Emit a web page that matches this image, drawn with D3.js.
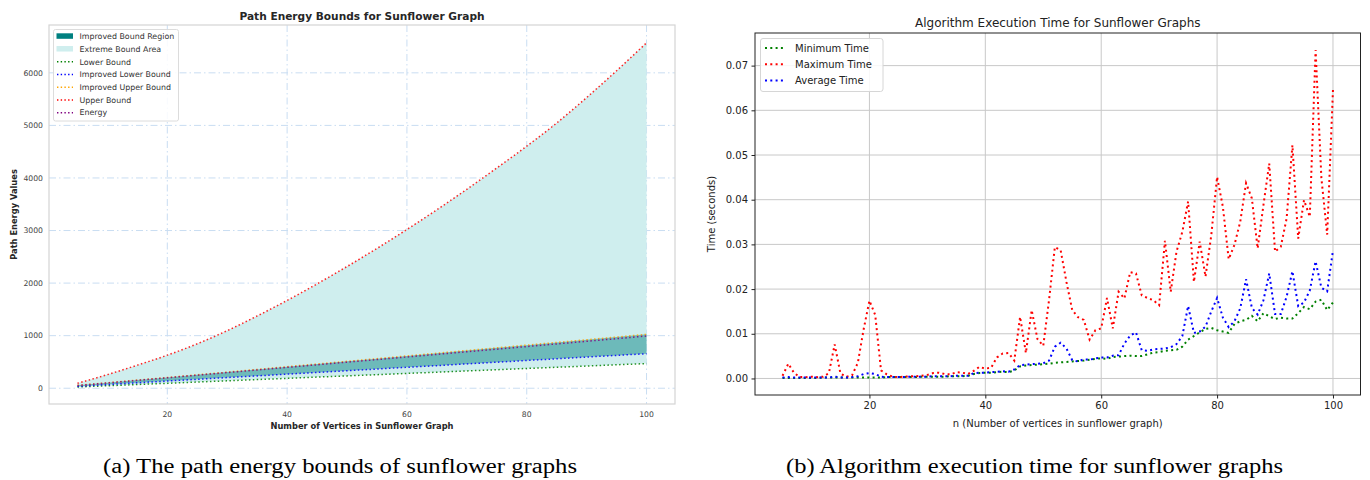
<!DOCTYPE html>
<html>
<head>
<meta charset="utf-8">
<title>Sunflower graphs</title>
<script src="https://d3js.org/d3.v7.min.js"></script>
<style>
  body { margin: 0; background: #fff; }
  svg { display: block; font-family: "DejaVu Sans", sans-serif; }
</style>
</head>
<body>
<div id="chart"></div>
<script>
// ---- left panel: path energy bounds ----
const nLeft = [5, 10, 15, 20, 25, 30, 35, 40, 45, 50, 55, 60, 65, 70, 75, 80, 85, 90, 95, 100];
const lowerBound = [24, 47, 71, 94, 118, 141, 165, 188, 212, 235, 258, 282, 305, 329, 352, 376, 399, 422, 446, 469];
const improvedLower = [35, 70, 103, 137, 170, 203, 235, 268, 300, 333, 365, 398, 430, 463, 495, 528, 560, 593, 625, 656];
const improvedUpper = [55, 104, 155, 205, 256, 307, 358, 410, 461, 512, 563, 614, 666, 717, 768, 820, 871, 922, 973, 1025];
const energyValues = [52, 100, 150, 199, 248, 298, 347, 397, 446, 496, 545, 595, 644, 694, 743, 793, 843, 893, 943, 994];
const upperBound = [94, 259, 439, 629, 845, 1095, 1375, 1670, 1985, 2315, 2660, 3020, 3395, 3785, 4190, 4605, 5045, 5530, 6040, 6571];
const leftXTicks = [20, 40, 60, 80, 100];
const leftYTicks = [0, 1000, 2000, 3000, 4000, 5000, 6000];

// ---- right panel: execution time ----
const nRight = d3.range(5, 101);
const minTime = [0.0001, 0.0001, 0.0001, 0.0001, 0.0001, 0.0001, 0.0001, 0.0002, 0.0002, 0.0002,
  0.0002, 0.0002, 0.0002, 0.0002, 0.0002, 0.0002, 0.0002, 0.0002, 0.0003, 0.0003,
  0.0003, 0.0003, 0.0003, 0.0003, 0.0004, 0.0004, 0.0004, 0.0004, 0.0004, 0.0005,
  0.0005, 0.0005, 0.0006, 0.0010, 0.0012, 0.0013, 0.0013, 0.0014, 0.0015, 0.0014,
  0.0018, 0.0027, 0.0029, 0.0030, 0.0031, 0.0032, 0.0033, 0.0035, 0.0036, 0.0037,
  0.0038, 0.0039, 0.0040, 0.0042, 0.0044, 0.0045, 0.0044, 0.0048, 0.0049, 0.0050,
  0.0051, 0.0050, 0.0050, 0.0054, 0.0058, 0.0059, 0.0062, 0.0063, 0.0064, 0.0071,
  0.0087, 0.0095, 0.0103, 0.0111, 0.0113, 0.0108, 0.0105, 0.0102, 0.0122, 0.0128,
  0.0131, 0.0140, 0.0128, 0.0146, 0.0139, 0.0133, 0.0136, 0.0134, 0.0134, 0.0146,
  0.0160, 0.0155, 0.0172, 0.0176, 0.0153, 0.0170];
const maxTime = [0.0006, 0.0033, 0.0012, 0.0003, 0.0003, 0.0004, 0.0003, 0.0004, 0.0012, 0.0076,
  0.0011, 0.0004, 0.0007, 0.0035, 0.0110, 0.0174, 0.0142, 0.0018, 0.0009, 0.0004,
  0.0003, 0.0004, 0.0005, 0.0005, 0.0006, 0.0008, 0.0012, 0.0013, 0.0010, 0.0009,
  0.0014, 0.0013, 0.0010, 0.0017, 0.0026, 0.0022, 0.0024, 0.0047, 0.0056, 0.0057,
  0.0040, 0.0138, 0.0057, 0.0153, 0.0088, 0.0073, 0.0176, 0.0294, 0.0287, 0.0216,
  0.0153, 0.0137, 0.0131, 0.0087, 0.0108, 0.0112, 0.0180, 0.0112, 0.0194, 0.0179,
  0.0238, 0.0235, 0.0186, 0.0180, 0.0175, 0.0164, 0.0308, 0.0194, 0.0284, 0.0328,
  0.0396, 0.0216, 0.0306, 0.0228, 0.0321, 0.0451, 0.0384, 0.0267, 0.0299, 0.0351,
  0.0437, 0.0403, 0.0291, 0.0388, 0.0481, 0.0284, 0.0295, 0.0358, 0.0522, 0.0313,
  0.0399, 0.0362, 0.0735, 0.0448, 0.0322, 0.0646];
const avgTime = [0.0002, 0.0003, 0.0002, 0.0002, 0.0002, 0.0002, 0.0002, 0.0002, 0.0002, 0.0004,
  0.0002, 0.0002, 0.0003, 0.0005, 0.0010, 0.0012, 0.0010, 0.0004, 0.0003, 0.0003,
  0.0003, 0.0003, 0.0004, 0.0004, 0.0004, 0.0004, 0.0005, 0.0005, 0.0005, 0.0005,
  0.0006, 0.0006, 0.0006, 0.0012, 0.0013, 0.0013, 0.0014, 0.0015, 0.0016, 0.0015,
  0.0020, 0.0030, 0.0031, 0.0032, 0.0033, 0.0034, 0.0040, 0.0071, 0.0080, 0.0067,
  0.0041, 0.0038, 0.0043, 0.0042, 0.0045, 0.0047, 0.0047, 0.0051, 0.0052, 0.0078,
  0.0096, 0.0103, 0.0063, 0.0062, 0.0065, 0.0066, 0.0067, 0.0070, 0.0077, 0.0095,
  0.0162, 0.0102, 0.0105, 0.0116, 0.0150, 0.0180, 0.0136, 0.0115, 0.0128, 0.0157,
  0.0222, 0.0158, 0.0143, 0.0175, 0.0235, 0.0144, 0.0144, 0.0183, 0.0240, 0.0162,
  0.0170, 0.0197, 0.0262, 0.0203, 0.0195, 0.0287];
const rightXTicks = [20, 40, 60, 80, 100];
const rightYTicks = [0, 0.01, 0.02, 0.03, 0.04, 0.05, 0.06, 0.07];

const W = 1370, H = 480;
const svg = d3.select("#chart").append("svg").attr("width", W).attr("height", H);

// ================= left chart =================
const L = { left: 49, right: 675, top: 25, bottom: 404 };
const lx = d3.scaleLinear().domain([0.25, 104.75]).range([L.left, L.right]);
const ly = d3.scaleLinear().domain([-300, 6910]).range([L.bottom, L.top]);
const left = svg.append("g");
const gridBlue = "#c9ddf2";

// grid
left.append("g").selectAll("line").data(leftXTicks).join("line")
  .attr("x1", d => lx(d)).attr("x2", d => lx(d))
  .attr("y1", L.top).attr("y2", L.bottom)
  .attr("stroke", gridBlue).attr("stroke-width", 1).attr("stroke-dasharray", "7,3,1.5,3");
left.append("g").selectAll("line").data(leftYTicks).join("line")
  .attr("x1", L.left).attr("x2", L.right)
  .attr("y1", d => ly(d)).attr("y2", d => ly(d))
  .attr("stroke", gridBlue).attr("stroke-width", 1).attr("stroke-dasharray", "7,3,1.5,3");

const leftRows = nLeft.map((n, i) => ({
  n, lo: lowerBound[i], ilo: improvedLower[i], iup: improvedUpper[i], up: upperBound[i], e: energyValues[i]
}));

left.append("path").datum(leftRows)
  .attr("fill", "#cfeeee")
  .attr("d", d3.area().curve(d3.curveMonotoneX).x(d => lx(d.n)).y0(d => ly(d.lo)).y1(d => ly(d.up)));
left.append("path").datum(leftRows)
  .attr("fill", "#008080").attr("fill-opacity", 0.47)
  .attr("d", d3.area().x(d => lx(d.n)).y0(d => ly(d.ilo)).y1(d => ly(d.iup)));

const leftLines = [
  { key: "lo", color: "#008000", label: "Lower Bound" },
  { key: "ilo", color: "#0000ff", label: "Improved Lower Bound" },
  { key: "iup", color: "#ffa500", label: "Improved Upper Bound" },
  { key: "up", color: "#ff0000", label: "Upper Bound" },
  { key: "e", color: "#800080", label: "Energy" }
];
leftLines.forEach(s => {
  left.append("path").datum(leftRows)
    .attr("fill", "none").attr("stroke", s.color).attr("stroke-width", 1.5)
    .attr("stroke-dasharray", "1.5,2.4").attr("stroke-opacity", 0.85)
    .attr("d", d3.line().curve(d3.curveMonotoneX).x(d => lx(d.n)).y(d => ly(d[s.key])));
});

// frame
left.append("rect").attr("x", L.left).attr("y", L.top)
  .attr("width", L.right - L.left).attr("height", L.bottom - L.top)
  .attr("fill", "none").attr("stroke", "#d4d4d4").attr("stroke-width", 1.2);

// tick labels
left.append("g").selectAll("text").data(leftXTicks).join("text")
  .attr("x", d => lx(d)).attr("y", 417).attr("text-anchor", "middle")
  .attr("font-size", 7.7).attr("fill", "#444").text(d => d);
left.append("g").selectAll("text").data(leftYTicks).join("text")
  .attr("x", 43).attr("y", d => ly(d) + 2.8).attr("text-anchor", "end")
  .attr("font-size", 7.7).attr("fill", "#444").text(d => d);

left.append("text").attr("x", (L.left + L.right) / 2).attr("y", 20)
  .attr("text-anchor", "middle").attr("font-size", 10.6).attr("font-weight", "bold")
  .attr("fill", "#262626").text("Path Energy Bounds for Sunflower Graph");
left.append("text").attr("x", (L.left + L.right) / 2).attr("y", 429)
  .attr("text-anchor", "middle").attr("font-size", 8.3).attr("font-weight", "bold")
  .attr("fill", "#262626").text("Number of Vertices in Sunflower Graph");
left.append("text").attr("transform", `translate(17,${(L.top + L.bottom) / 2}) rotate(-90)`)
  .attr("text-anchor", "middle").attr("font-size", 8.3).attr("font-weight", "bold")
  .attr("fill", "#262626").text("Path Energy Values");

// legend
const lleg = left.append("g");
lleg.append("rect").attr("x", 53.5).attr("y", 29.5).attr("width", 125).attr("height", 91.5)
  .attr("rx", 2).attr("fill", "#fff").attr("fill-opacity", 0.85).attr("stroke", "#dcdcdc");
const legItems = [
  { type: "patch", color: "#008080", label: "Improved Bound Region" },
  { type: "patch", color: "#cfeeee", label: "Extreme Bound Area" }
].concat(leftLines.map(s => ({ type: "line", color: s.color, label: s.label })));
legItems.forEach((it, i) => {
  const cy = 36.3 + i * 12.73;
  if (it.type === "patch") {
    lleg.append("rect").attr("x", 56.5).attr("y", cy - 3).attr("width", 16.5).attr("height", 5.5)
      .attr("fill", it.color);
  } else {
    lleg.append("line").attr("x1", 57).attr("x2", 73).attr("y1", cy).attr("y2", cy)
      .attr("stroke", it.color).attr("stroke-width", 1.4).attr("stroke-dasharray", "1.4,2.3");
  }
  lleg.append("text").attr("x", 79.5).attr("y", cy + 2.8).attr("font-size", 7.9)
    .attr("fill", "#333").text(it.label);
});

// ================= right chart =================
const R = { left: 755, right: 1360.5, top: 33, bottom: 395 };
const rx = d3.scaleLinear().domain([0.25, 104.75]).range([R.left, R.right]);
const ry = d3.scaleLinear().domain([-0.0037, 0.0773]).range([R.bottom, R.top]);
const right = svg.append("g");

right.append("g").selectAll("line").data(rightXTicks).join("line")
  .attr("x1", d => rx(d)).attr("x2", d => rx(d)).attr("y1", R.top).attr("y2", R.bottom)
  .attr("stroke", "#c8c8c8").attr("stroke-width", 1);
right.append("g").selectAll("line").data(rightYTicks).join("line")
  .attr("x1", R.left).attr("x2", R.right).attr("y1", d => ry(d)).attr("y2", d => ry(d))
  .attr("stroke", "#c8c8c8").attr("stroke-width", 1);

const rightSeries = [
  { values: minTime, color: "#008000", label: "Minimum Time" },
  { values: maxTime, color: "#ff0000", label: "Maximum Time" },
  { values: avgTime, color: "#0000ff", label: "Average Time" }
];
rightSeries.forEach(s => {
  right.append("path").datum(nRight.map((n, i) => [n, s.values[i]]))
    .attr("fill", "none").attr("stroke", s.color).attr("stroke-width", 2)
    .attr("stroke-dasharray", "2,3.3")
    .attr("d", d3.line().x(d => rx(d[0])).y(d => ry(d[1])));
});

right.append("rect").attr("x", R.left).attr("y", R.top)
  .attr("width", R.right - R.left).attr("height", R.bottom - R.top)
  .attr("fill", "none").attr("stroke", "#222").attr("stroke-width", 1);

const xAxisR = d3.axisBottom(rx).tickValues(rightXTicks).tickSize(3.5).tickPadding(3.5);
const yAxisR = d3.axisLeft(ry).tickValues(rightYTicks).tickSize(3.5).tickPadding(3.5).tickFormat(d3.format(".2f"));
const gx = right.append("g").attr("transform", `translate(0,${R.bottom})`).call(xAxisR);
const gy = right.append("g").attr("transform", `translate(${R.left},0)`).call(yAxisR);
[gx, gy].forEach(g => {
  g.select(".domain").remove();
  g.selectAll("text").attr("font-size", 10).attr("font-family", "DejaVu Sans").attr("fill", "#222");
  g.selectAll("line").attr("stroke", "#222");
});

right.append("text").attr("x", (R.left + R.right) / 2).attr("y", 26.5)
  .attr("text-anchor", "middle").attr("font-size", 12).attr("fill", "#222")
  .text("Algorithm Execution Time for Sunflower Graphs");
right.append("text").attr("x", (R.left + R.right) / 2).attr("y", 426.5)
  .attr("text-anchor", "middle").attr("font-size", 10).attr("fill", "#222")
  .text("n (Number of vertices in sunflower graph)");
right.append("text").attr("transform", `translate(715,${(R.top + R.bottom) / 2}) rotate(-90)`)
  .attr("text-anchor", "middle").attr("font-size", 10).attr("fill", "#222")
  .text("Time (seconds)");

const rleg = right.append("g");
rleg.append("rect").attr("x", 760.5).attr("y", 38.5).attr("width", 122.5).attr("height", 53)
  .attr("rx", 2.5).attr("fill", "#fff").attr("fill-opacity", 0.85).attr("stroke", "#d6d6d6");
rightSeries.forEach((s, i) => {
  const cy = 48 + i * 16.2;
  rleg.append("line").attr("x1", 765).attr("x2", 786).attr("y1", cy).attr("y2", cy)
    .attr("stroke", s.color).attr("stroke-width", 2).attr("stroke-dasharray", "2,3.3");
  rleg.append("text").attr("x", 795).attr("y", cy + 3.6).attr("font-size", 10)
    .attr("fill", "#222").text(s.label);
});

// ================= captions =================
svg.append("text").attr("x", 340).attr("y", 473).attr("text-anchor", "middle")
  .attr("font-family", "Liberation Serif, serif").attr("font-size", 20)
  .attr("textLength", 474).attr("lengthAdjust", "spacingAndGlyphs")
  .text("(a) The path energy bounds of sunflower graphs");
svg.append("text").attr("x", 1034.5).attr("y", 473).attr("text-anchor", "middle")
  .attr("font-family", "Liberation Serif, serif").attr("font-size", 20)
  .attr("textLength", 497).attr("lengthAdjust", "spacingAndGlyphs")
  .text("(b) Algorithm execution time for sunflower graphs");
</script>
</body>
</html>
